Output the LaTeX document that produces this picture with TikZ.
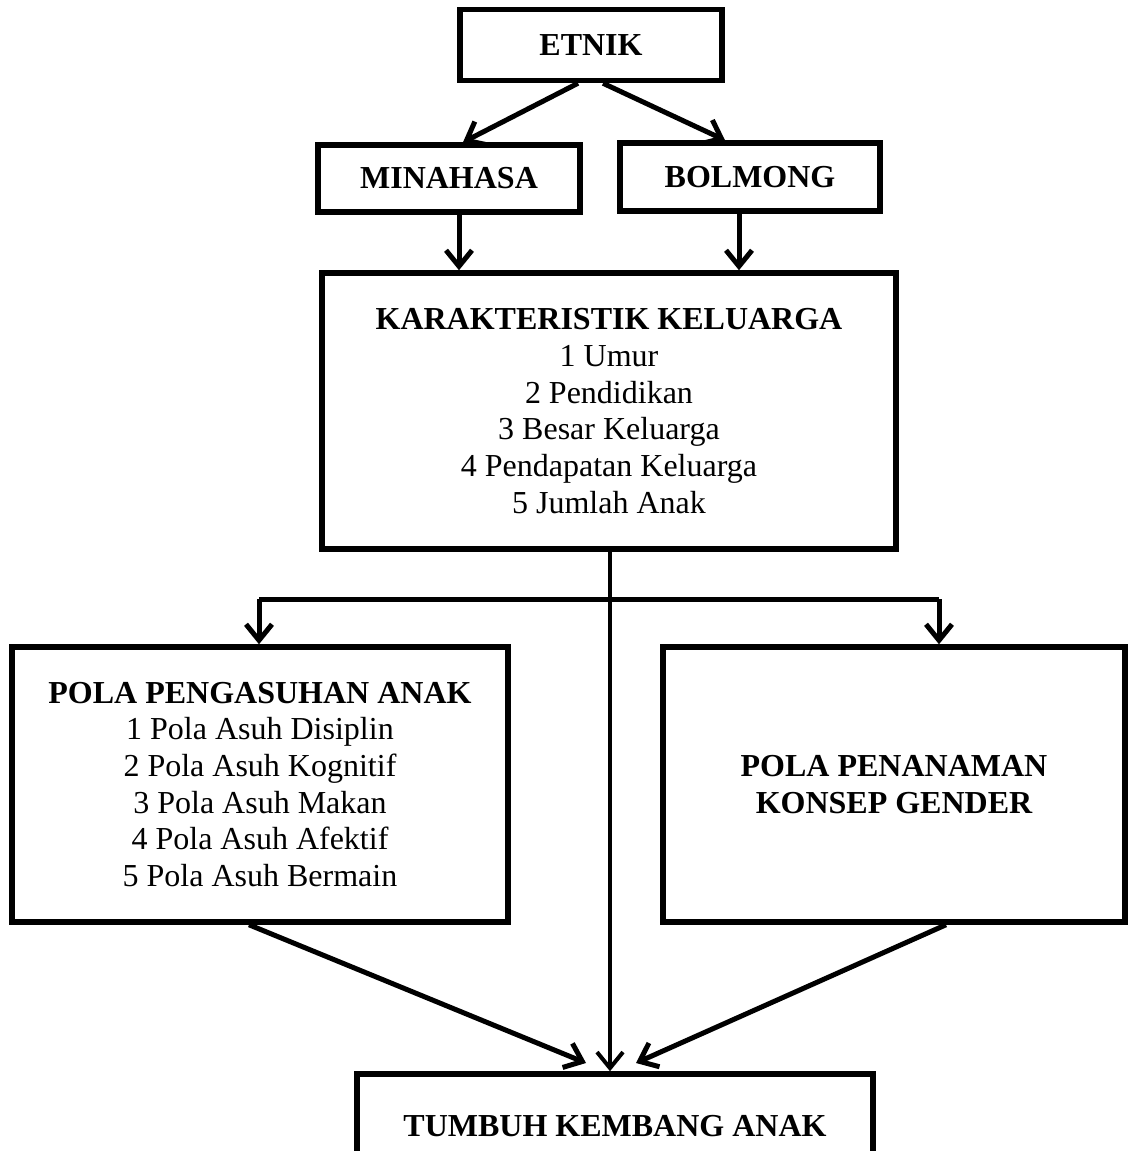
\documentclass[tikz,border=0pt]{standalone}
\usepackage{fontspec}
\setmainfont{Liberation Serif}
\usetikzlibrary{arrows.meta}
\begin{document}
\begin{tikzpicture}[x=1pt,y=-1pt,
  box/.style={draw, line width=5.5pt, rectangle, inner sep=0pt, align=center},
  arr/.style={line width=5pt, -{Straight Barb[length=16pt,width=26pt]}},
  plain/.style={line width=5pt},
  font=\fontsize{32}{36.7}\selectfont]
\fill[white] (0,0) rectangle (1128,1151);
\useasboundingbox (0,0) rectangle (1128,1151);

\node[box, minimum width=262pt, minimum height=71pt] (etnik) at (591,45) {\bfseries ETNIK};
\node[box, minimum width=262pt, minimum height=67pt] (mina) at (449,178.5) {\bfseries MINAHASA};
\node[box, minimum width=260pt, minimum height=68pt] (bolm) at (750,177) {\bfseries BOLMONG};
\node[box, minimum width=574pt, minimum height=276pt] (kk) at (609,411)
  {\bfseries KARAKTERISTIK KELUARGA\\1 Umur\\2 Pendidikan\\3 Besar Keluarga\\4 Pendapatan Keluarga\\5 Jumlah Anak};
\node[box, minimum width=496pt, minimum height=275pt] (pp) at (260,784.5)
  {\bfseries POLA PENGASUHAN ANAK\\1 Pola Asuh Disiplin\\2 Pola Asuh Kognitif\\3 Pola Asuh Makan\\4 Pola Asuh Afektif\\5 Pola Asuh Bermain};
\node[box, minimum width=462pt, minimum height=275pt] (pg) at (894,784.5)
  {\bfseries POLA PENANAMAN\\\bfseries KONSEP GENDER};
\node[box, minimum width=516pt, minimum height=104pt] (tk) at (615,1126) {\bfseries TUMBUH KEMBANG ANAK};

% top arrows
\draw[arr] (etnik.south -| 578,0) -- (mina.north -| 463,0);
\draw[arr] (etnik.south -| 603,0) -- (bolm.north -| 725,0);
\draw[arr] (mina.south -| 459,0) -- (kk.north -| 459,0);
\draw[arr] (bolm.south -| 739,0) -- (kk.north -| 739,0);

% central line and branches
\coordinate (split) at (610,599);
\coordinate (lbr) at (259,599);
\coordinate (rbr) at (939,599);
\draw[arr, line width=4pt] (kk.south -| split) -- (tk.north -| split);
\draw[plain] (lbr) -- (rbr);
\draw[arr] (lbr) -- (pp.north -| lbr);
\draw[arr] (rbr) -- (pg.north -| rbr);

% converging arrows
\coordinate (ltip) at (586,1063);
\coordinate (rtip) at (636,1063);
\draw[arr] (pp.south -| 249,0) -- (ltip);
\draw[arr] (pg.south -| 946,0) -- (rtip);
\end{tikzpicture}
\end{document}
